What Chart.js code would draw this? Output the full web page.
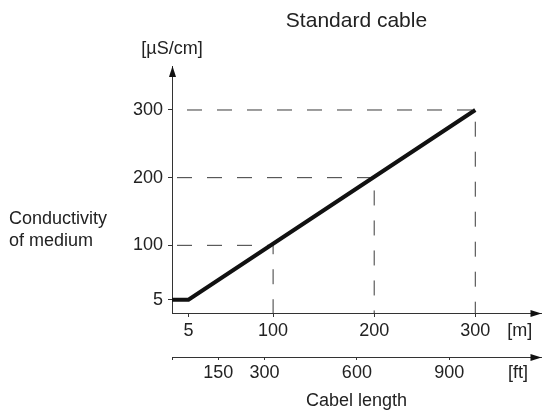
<!DOCTYPE html>
<html>
<head>
<meta charset="utf-8">
<script src="https://cdn.jsdelivr.net/npm/chart.js@4.4.1/dist/chart.umd.min.js"></script>
<style>
  html, body { margin: 0; padding: 0; background: #ffffff; }
  #wrap { width: 542px; height: 412px; }
</style>
</head>
<body>
<div id="wrap"><canvas id="c" width="542" height="412"></canvas></div>
<script>
// ---------------- data ----------------
const cableLengthM = [0, 5, 300];          // [m]
const conductivity = [5, 5, 300];         // [µS/cm]
const guideValues = [100, 200, 300];      // dashed reading lines
const mTicks = [5, 100, 200, 300];
const mTickLabels = ['5', '100', '200', '300'];
const ftTicks = [0, 150, 300, 600, 900];
const ftTickLabels = ['', '150', '300', '600', '900'];
const yTicks = [5, 100, 200, 300];
const yTickLabels = ['5', '100', '200', '300'];
const chartTitle = 'Standard cable';
const yUnit = '[µS/cm]';
const yTitleLines = ['Conductivity', 'of medium'];
const mUnit = '[m]';
const ftUnit = '[ft]';
const xTitle = 'Cabel length';
const FT_PER_M = 1 / 0.3048;

// ---------------- styling / layout ----------------
const FONT = "'Liberation Sans', Arial, Helvetica, sans-serif";
const TEXT = '#222222';
const AXIS = '#333333';
const AXIS_MAX = 365;          // scale extent (arrow tip) in axis units
const M_UNIT_POS = 344;        // where the [m] unit label sits on the m axis
const FT_UNIT_POS = 1123;      // where the [ft] unit label sits on the ft axis

// The drawing is schematic near the origin: the value 5 is drawn
// further from 0 than a linear scale would place it.
const SCALE_KNOTS = {
  x: [[0, 0], [5, 16.3], [100, 100], [1000, 1000]],
  y: [[0, 0], [5, 19.6], [100, 100], [1000, 1000]]
};
function warp(knots, v) {
  for (let i = 0; i < knots.length - 1; i++) {
    const [a0, b0] = knots[i], [a1, b1] = knots[i + 1];
    if (v <= a1 || i === knots.length - 2) return b0 + (v - a0) * (b1 - b0) / (a1 - a0);
  }
  return v;
}
function unwarp(knots, w) {
  for (let i = 0; i < knots.length - 1; i++) {
    const [a0, b0] = knots[i], [a1, b1] = knots[i + 1];
    if (w <= b1 || i === knots.length - 2) return a0 + (w - b0) * (a1 - a0) / (b1 - b0);
  }
  return w;
}
class SchematicScale extends Chart.LinearScale {
  getPixelForValue(value) {
    if (value === null || value === undefined) return NaN;
    return super.getPixelForValue(warp(SCALE_KNOTS[this.id], value));
  }
  getValueForPixel(pixel) {
    return unwarp(SCALE_KNOTS[this.id], super.getValueForPixel(pixel));
  }
}
SchematicScale.id = 'schematic';
SchematicScale.defaults = Chart.LinearScale.defaults;
Chart.register(SchematicScale);

// ---------------- datasets ----------------
const mainData = cableLengthM.map((x, i) => ({ x: x, y: conductivity[i] }));
const dashOffsets = [25, 25, 15];
const guideSets = guideValues.map((v, i) => ({
  data: [{ x: 0, y: v }, { x: v, y: v }, { x: v, y: 0 }],
  borderColor: '#3a3a3a',
  borderWidth: 1,
  borderDash: [15, 15],
  borderDashOffset: dashOffsets[i],
  pointRadius: 0,
  tension: 0,
  fill: false
}));

function tickFont() { return { family: FONT, size: 18, lineHeight: 1.2 }; }

// ---------------- decorations ----------------
function arrowHead(ctx, x, y, dir) {
  const L = 11, W = 3.5;
  ctx.beginPath();
  if (dir === 'up') {
    ctx.moveTo(x, y); ctx.lineTo(x - W, y + L); ctx.lineTo(x + W, y + L);
  } else {
    ctx.moveTo(x, y); ctx.lineTo(x - L, y - W); ctx.lineTo(x - L, y + W);
  }
  ctx.closePath();
  ctx.fill();
}
const decor = {
  id: 'decor',
  afterDraw(chart) {
    const { ctx, chartArea: a, scales } = chart;
    ctx.save();
    ctx.fillStyle = '#111111';
    arrowHead(ctx, Math.round(a.left) + 0.5, a.top, 'up');
    arrowHead(ctx, a.right + 0.5, Math.round(a.bottom) + 0.5, 'right');
    arrowHead(ctx, a.right + 0.5, Math.round(scales.xft.top) + 0.5, 'right');
    ctx.fillStyle = TEXT;
    ctx.font = '18px ' + FONT;
    ctx.textBaseline = 'middle';
    ctx.textAlign = 'center';
    ctx.fillText(yUnit, a.left, a.top - 17);
    ctx.textAlign = 'left';
    yTitleLines.forEach((t, i) => ctx.fillText(t, 9, 219.5 + i * 22));
    ctx.restore();
  }
};

new Chart(document.getElementById('c'), {
  type: 'line',
  data: {
    datasets: [{
      data: mainData,
      borderColor: '#111111',
      borderWidth: 4,
      borderCapStyle: 'butt',
      borderJoinStyle: 'miter',
      pointRadius: 0,
      tension: 0,
      fill: false
    }].concat(guideSets)
  },
  options: {
    responsive: false,
    animation: false,
    events: [],
    layout: { padding: { left: 0, right: 1, top: 0, bottom: 0 } },
    plugins: {
      legend: { display: false },
      tooltip: { enabled: false },
      title: {
        display: true,
        text: chartTitle,
        fullSize: false,
        color: TEXT,
        font: { family: FONT, size: 21, weight: 'normal', lineHeight: 1.2 },
        padding: { top: 9, bottom: 31.8 }
      }
    },
    scales: {
      x: {
        type: 'schematic',
        position: 'bottom',
        weight: 0,
        min: 0,
        max: AXIS_MAX,
        afterBuildTicks: s => { s.ticks = mTicks.map(v => ({ value: v })).concat([{ value: M_UNIT_POS }]); },
        afterFit: s => { s.height = 44; },
        ticks: {
          autoSkip: false, maxRotation: 0, minRotation: 0,
          color: TEXT, font: tickFont(), padding: 3,
          callback: (v, i) => (i < mTickLabels.length ? mTickLabels[i] : mUnit)
        },
        grid: {
          drawOnChartArea: false, drawTicks: true, tickLength: 4, tickWidth: 1,
          tickColor: c => (c.tick && c.tick.value === M_UNIT_POS ? 'rgba(0,0,0,0)' : AXIS)
        },
        border: { display: true, color: AXIS, width: 1 }
      },
      xft: {
        type: 'linear',
        axis: 'x',
        position: 'bottom',
        weight: 1,
        min: 0,
        max: AXIS_MAX * FT_PER_M,
        afterBuildTicks: s => { s.ticks = ftTicks.map(v => ({ value: v })).concat([{ value: FT_UNIT_POS }]); },
        afterFit: s => { s.height = 55; },
        ticks: {
          autoSkip: false, maxRotation: 0, minRotation: 0,
          color: TEXT, font: tickFont(), padding: 2,
          callback: (v, i) => (i < ftTickLabels.length ? ftTickLabels[i] : ftUnit)
        },
        grid: {
          drawOnChartArea: false, drawTicks: true, tickLength: 3, tickWidth: 1,
          tickColor: c => (c.tick && c.tick.value === FT_UNIT_POS ? 'rgba(0,0,0,0)' : AXIS)
        },
        border: { display: true, color: AXIS, width: 1 },
        title: {
          display: true, text: xTitle, color: TEXT,
          font: { family: FONT, size: 18, lineHeight: 1.2 },
          padding: { top: 0, bottom: 0 }
        }
      },
      y: {
        type: 'schematic',
        position: 'left',
        min: 0,
        max: AXIS_MAX,
        afterBuildTicks: s => { s.ticks = yTicks.map(v => ({ value: v })); },
        afterFit: s => { s.width = 172; },
        ticks: {
          autoSkip: false, color: TEXT, font: tickFont(), padding: 5,
          callback: (v, i) => yTickLabels[i]
        },
        grid: { drawOnChartArea: false, drawTicks: true, tickLength: 4, tickWidth: 1, tickColor: AXIS },
        border: { display: true, color: AXIS, width: 1 }
      }
    }
  },
  plugins: [decor]
});
</script>
</body>
</html>
